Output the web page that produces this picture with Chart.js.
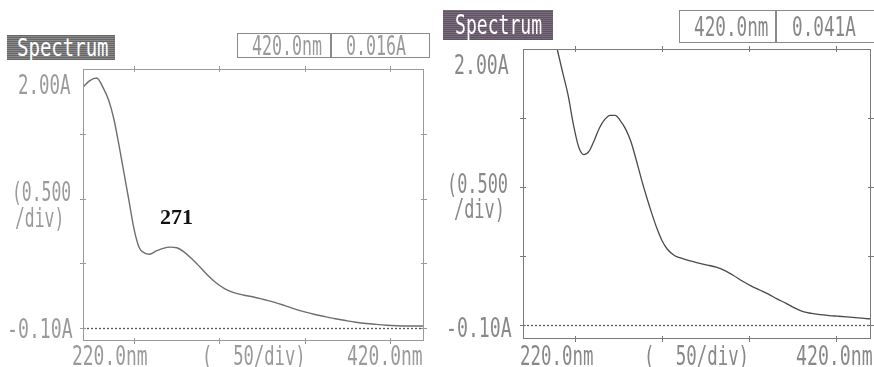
<!DOCTYPE html>
<html>
<head>
<meta charset="utf-8">
<script src="https://cdn.jsdelivr.net/npm/chart.js@4/dist/chart.umd.min.js"></script>
<style>
  html, body { margin:0; padding:0; background:#fff; width:874px; height:367px; overflow:hidden; }
  #wrap { position:relative; width:874px; height:367px; }
  canvas { position:absolute; top:0; }
  .t { position:absolute; white-space:pre; font-family:"DejaVu Sans Mono", monospace; font-size:26px; line-height:26px; transform-origin:left center; transform:scaleX(0.67); color:#9a9a9a; }
  .t.r { color:#888; }
  .t.w { word-spacing:16px; }
  .spec { position:absolute; color:#fff; font-family:"DejaVu Sans Mono", monospace; white-space:pre; overflow:hidden; }
  .box { position:absolute; border:1px solid #8a8a8a; background:#fff; box-sizing:border-box; }
  .ann { position:absolute; font-family:"Liberation Serif", serif; font-weight:bold; font-size:22px; line-height:22px; color:#111; }
</style>
</head>
<body>
<div id="wrap">
  <canvas id="c1" width="437" height="367" style="left:0"></canvas>
  <canvas id="c2" width="437" height="367" style="left:437px"></canvas>
</div>
<script>
// ---- data ----
const wavelengths1 = [220,224,228,232,235,238,241,244,247,250,253,256,259,263,267,271,275,279,283,288,293,298,303,308,314,320,326,332,338,344,350,356,362,368,374,380,386,392,398,404,410,416,420];
const absorbance1  = [1.86,1.91,1.93,1.85,1.76,1.62,1.42,1.20,0.98,0.76,0.62,0.58,0.57,0.595,0.615,0.625,0.62,0.59,0.545,0.48,0.41,0.35,0.305,0.275,0.255,0.24,0.22,0.20,0.175,0.148,0.125,0.105,0.088,0.072,0.058,0.045,0.035,0.028,0.022,0.018,0.016,0.016,0.016];
const wavelengths2 = [220,226,232,236,240,243,246,249,252,255,258,261,264,267,270,273,276,279,282,285,288,291,294,297,300,303,307,311,316,321,326,331,336,341,346,351,356,361,366,371,376,381,386,391,396,401,406,411,416,420];
const absorbance2  = [3.2,2.8,2.45,2.2,1.98,1.82,1.66,1.45,1.29,1.235,1.26,1.34,1.43,1.49,1.52,1.52,1.48,1.42,1.33,1.20,1.06,0.93,0.81,0.70,0.61,0.55,0.505,0.485,0.465,0.45,0.435,0.42,0.395,0.36,0.32,0.285,0.255,0.225,0.19,0.16,0.125,0.098,0.085,0.077,0.07,0.065,0.06,0.055,0.05,0.045];
const xTicks = [250, 300, 350, 400];
const yTicks = [0, 0.5, 1.0, 1.5];
const xRange = [220, 420];
const yRange = [-0.10, 2.00];
const panelTitle = "Spectrum";
const cursorWavelength = "420.0nm";
const cursorValues = ["0.016A", "0.041A"];
const yTopLabel = "2.00A";
const yBottomLabel = "-0.10A";
const yDivLabel = ["(0.500", "/div)"];
const xLeftLabel = "220.0nm";
const xRightLabel = "420.0nm";
const xDivLabel = "( 50/div)";
const peakLabel = "271";

// ---- frame plugin ----
const framePlugin = {
  id: 'frame',
  beforeDatasetsDraw(chart, args, o) {
    const {ctx, chartArea:a, scales:{y}} = chart;
    const py = Math.round(y.getPixelForValue(0)) + 0.5;
    ctx.save();
    ctx.strokeStyle = o.zeroColor; ctx.lineWidth = 1.3; ctx.setLineDash([2,2]);
    ctx.beginPath(); ctx.moveTo(a.left, py); ctx.lineTo(a.right, py); ctx.stroke();
    ctx.restore();
  },
  afterDatasetsDraw(chart, args, o) {
    const {ctx, chartArea:a, scales:{x, y}} = chart;
    ctx.save();
    ctx.strokeStyle = o.color; ctx.lineWidth = 1;
    ctx.strokeRect(Math.round(a.left)+0.5, Math.round(a.top)+0.5, Math.round(a.right-a.left)-1, Math.round(a.bottom-a.top)-1);
    ctx.beginPath();
    xTicks.forEach(v => {
      const px = Math.round(x.getPixelForValue(v)) + 0.5;
      ctx.moveTo(px, a.top-3); ctx.lineTo(px, a.top+3);
      ctx.moveTo(px, a.bottom-3); ctx.lineTo(px, a.bottom+3);
    });
    yTicks.forEach(v => {
      const py = Math.round(y.getPixelForValue(v)) + 0.5;
      ctx.moveTo(a.left-3, py); ctx.lineTo(a.left+3, py);
      ctx.moveTo(a.right-3, py); ctx.lineTo(a.right+3, py);
    });
    ctx.stroke();
    ctx.restore();
  }
};

function makeChart(id, wl, ab, pad, lineColor, frameColor, lw) {
  return new Chart(document.getElementById(id), {
    type: 'line',
    data: { datasets: [{
      data: wl.map((w, i) => ({x: w, y: ab[i]})),
      borderColor: lineColor, borderWidth: lw, pointRadius: 0,
      cubicInterpolationMode: 'monotone', fill: false
    }]},
    options: {
      responsive: false, animation: false,
      layout: { padding: pad },
      plugins: { legend: {display:false}, tooltip: {enabled:false},
        frame: { color: frameColor, zeroColor: '#555' } },
      scales: {
        x: { type: 'linear', min: xRange[0], max: xRange[1], display: false },
        y: { type: 'linear', min: yRange[0], max: yRange[1], display: false }
      }
    },
    plugins: [framePlugin]
  });
}

makeChart('c1', wavelengths1, absorbance1, {left:83, right:13, top:69, bottom:26}, '#6e6e6e', '#9a9a9a', 1.4);
makeChart('c2', wavelengths2, absorbance2, {left:86, right:3, top:49, bottom:28}, '#4a4a4a', '#7a7a7a', 1.3);

// ---- text overlays ----
const wrap = document.getElementById('wrap');
function txt(s, x, cy, cls, sx) {
  const d = document.createElement('div');
  d.className = cls || 't';
  d.textContent = s;
  d.style.left = x + 'px';
  d.style.top = (cy - 12.5) + 'px';
  if (sx) d.style.transform = 'scaleX(' + sx + ')';
  wrap.appendChild(d);
  return d;
}
function box(x, y, w, h) {
  const d = document.createElement('div');
  d.className = 'box';
  Object.assign(d.style, {left:x+'px', top:y+'px', width:w+'px', height:h+'px'});
  wrap.appendChild(d);
}
function spec(x, y, w, h, bg, fs, sx, ml) {
  const d = document.createElement('div');
  d.className = 'spec';
  Object.assign(d.style, {left:x+'px', top:y+'px', width:w+'px', height:h+'px', background:bg,
    fontSize:fs+'px', lineHeight:h+'px'});
  const inner = document.createElement('span');
  inner.textContent = panelTitle;
  Object.assign(inner.style, {display:'inline-block', transform:'scaleX('+sx+')', transformOrigin:'left center', marginLeft:ml+'px'});
  d.appendChild(inner);
  wrap.appendChild(d);
}

// left panel
spec(7, 35, 108, 25, 'repeating-linear-gradient(0deg,#666 0px,#666 1px,#8a8a8a 1px,#8a8a8a 2px)', 25, 0.76, 10);
box(237, 33, 193, 25);
box(330, 33, 1, 25);
txt(cursorWavelength, 252, 45, 't', 0.64);
txt(cursorValues[0], 346, 45, 't', 0.64);
txt(yTopLabel, 18, 84, 't');
txt(yDivLabel[0], 12, 191, 't', 0.63);
txt(yDivLabel[1], 15, 217, 't', 0.63);
txt(yBottomLabel, 7, 328, 't', 0.7);
txt(xLeftLabel, 72, 355, 't', 0.69);
txt(xDivLabel, 202, 355, 't w', 0.66);
txt(xRightLabel, 347, 355, 't', 0.69);
const a = document.createElement('div');
a.className = 'ann'; a.textContent = peakLabel;
Object.assign(a.style, {left:'160px', top:'206px'});
wrap.appendChild(a);

// right panel
spec(443, 10, 110, 30, 'repeating-linear-gradient(0deg,#5f5263 0px,#5f5263 1px,#7a6c7c 1px,#7a6c7c 2px)', 27, 0.67, 12);
box(679, 10, 210, 33);
box(775, 10, 1, 33);
txt(cursorWavelength, 694, 26, 't r', 0.68);
txt(cursorValues[1], 792, 26, 't r', 0.68);
txt(yTopLabel, 454, 64, 't r', 0.7);
txt(yDivLabel[0], 447, 183, 't r', 0.65);
txt(yDivLabel[1], 454, 208, 't r', 0.65);
txt(yBottomLabel, 446, 327, 't r', 0.7);
txt(xLeftLabel, 520, 355, 't r', 0.67);
txt(xDivLabel, 644, 355, 't r w', 0.67);
txt(xRightLabel, 796, 355, 't r', 0.7);
</script>
</body>
</html>
